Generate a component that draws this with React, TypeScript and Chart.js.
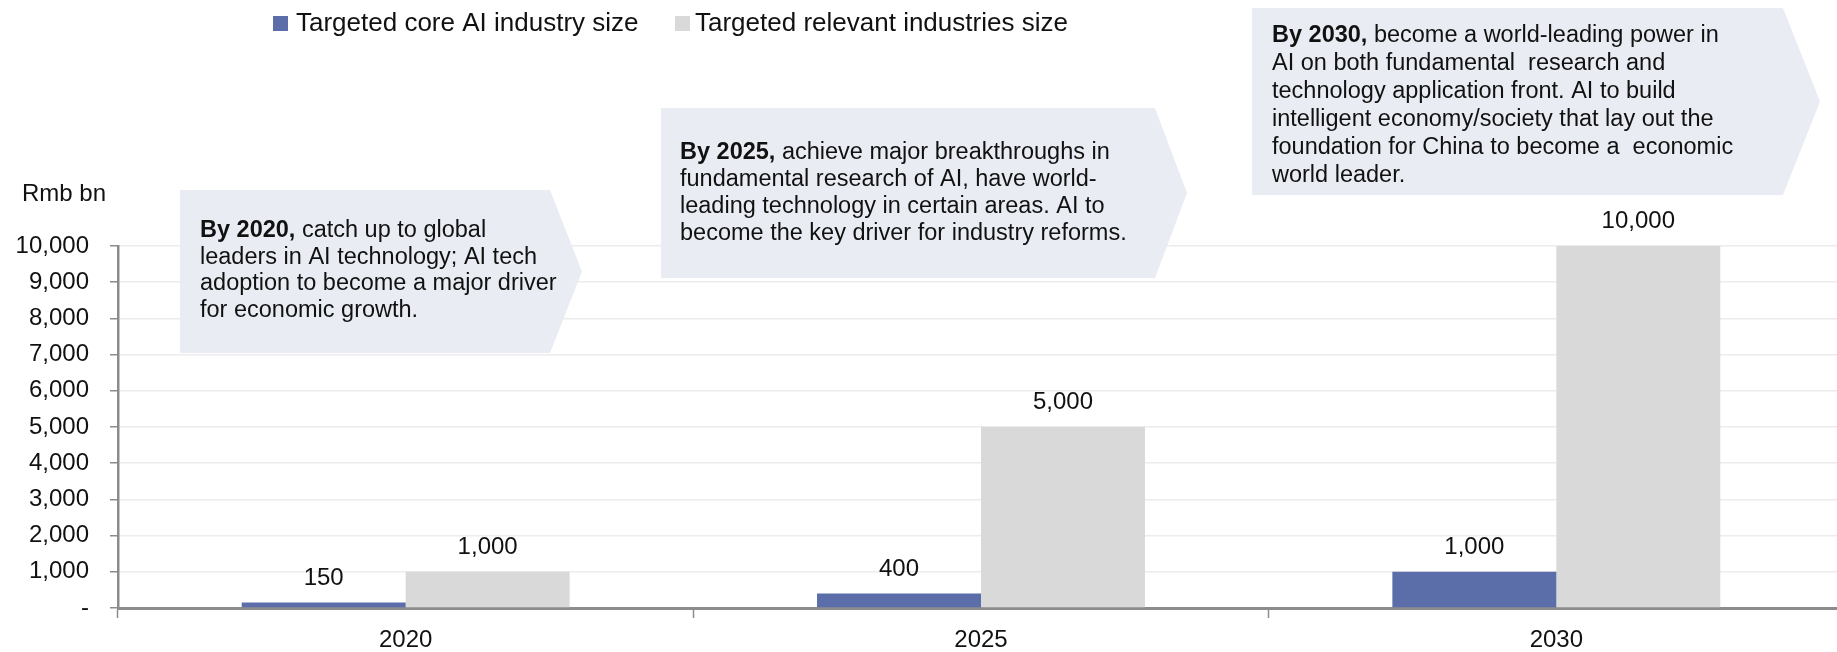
import React, { useEffect, useRef } from "react";
import { Chart, registerables } from "chart.js";

Chart.register(...registerables);

const categories = ["2020", "2025", "2030"];
const coreAISize = [150, 400, 1000];
const relevantSize = [1000, 5000, 10000];
const seriesNames = ["Targeted core AI industry size", "Targeted relevant industries size"];
const yUnit = "Rmb bn";
const yMax = 10000;
const yStep = 1000;

const callout2020 = [
  [{ t: "By 2020,", b: true }, { t: " catch up to global", b: false }],
  [{ t: "leaders in AI technology; AI tech", b: false }],
  [{ t: "adoption to become a major driver", b: false }],
  [{ t: "for economic growth.", b: false }],
];
const callout2025 = [
  [{ t: "By 2025,", b: true }, { t: " achieve major breakthroughs in", b: false }],
  [{ t: "fundamental research of AI, have world-", b: false }],
  [{ t: "leading technology in certain areas. AI to", b: false }],
  [{ t: "become the key driver for industry reforms.", b: false }],
];
const callout2030 = [
  [{ t: "By 2030,", b: true }, { t: " become a world-leading power in", b: false }],
  [{ t: "AI on both fundamental  research and", b: false }],
  [{ t: "technology application front. AI to build", b: false }],
  [{ t: "intelligent economy/society that lay out the", b: false }],
  [{ t: "foundation for China to become a  economic", b: false }],
  [{ t: "world leader.", b: false }],
];

const FONT = "'Liberation Sans', Arial, Helvetica, sans-serif";
const BLUE = "#5b6eaa";
const GREY = "#d9d9d9";
const BOXFILL = "#e9ecf3";

const calloutLayout = [
  { lines: callout2020, left: 180, top: 190, right: 550, tip: 582, bottom: 353, tx: 200, ty: 230.5, lh: 26.7 },
  { lines: callout2025, left: 661, top: 108, right: 1155, tip: 1187, bottom: 278, tx: 680, ty: 153, lh: 26.7 },
  { lines: callout2030, left: 1252, top: 8, right: 1783, tip: 1820, bottom: 195, tx: 1272, ty: 35.5, lh: 28 },
];

const calloutPlugin = {
  id: "callouts",
  beforeDatasetsDraw(chart: any) {
    const ctx = chart.ctx;
    ctx.save();
    for (const c of calloutLayout) {
      const midY = (c.top + c.bottom) / 2;
      ctx.fillStyle = BOXFILL;
      ctx.beginPath();
      ctx.moveTo(c.left, c.top);
      ctx.lineTo(c.right, c.top);
      ctx.lineTo(c.tip, midY);
      ctx.lineTo(c.right, c.bottom);
      ctx.lineTo(c.left, c.bottom);
      ctx.closePath();
      ctx.fill();
      ctx.fillStyle = "#111111";
      ctx.textBaseline = "middle";
      ctx.textAlign = "left";
      c.lines.forEach((segs: any[], i: number) => {
        let x = c.tx;
        const y = c.ty + i * c.lh;
        for (const s of segs) {
          ctx.font = `${s.b ? "bold " : ""}23.5px ${FONT}`;
          ctx.fillText(s.t, x, y);
          x += ctx.measureText(s.t).width;
        }
      });
    }
    ctx.restore();
  },
};

const labelsPlugin = {
  id: "valueLabels",
  afterDatasetsDraw(chart: any) {
    const ctx = chart.ctx;
    ctx.save();
    ctx.font = `24px ${FONT}`;
    ctx.fillStyle = "#111111";
    ctx.textAlign = "center";
    ctx.textBaseline = "alphabetic";
    chart.data.datasets.forEach((ds: any, di: number) => {
      const meta = chart.getDatasetMeta(di);
      meta.data.forEach((el: any, i: number) => {
        const v = ds.data[i];
        ctx.fillText(v.toLocaleString("en-US"), el.x, el.y - 18);
      });
    });
    // legend
    ctx.font = `26px ${FONT}`;
    ctx.textAlign = "left";
    ctx.textBaseline = "middle";
    const legendPos = [
      { sx: 273, tx: 296 },
      { sx: 675, tx: 695 },
    ];
    chart.data.datasets.forEach((ds: any, di: number) => {
      const p = legendPos[di];
      ctx.fillStyle = ds.backgroundColor;
      ctx.fillRect(p.sx, 16, 15, 15);
      ctx.fillStyle = "#111111";
      ctx.fillText(ds.label, p.tx, 24);
    });
    // unit
    ctx.font = `24px ${FONT}`;
    ctx.fillText(yUnit, 22, 194);
    ctx.restore();
  },
};

export default function App() {
  const ref = useRef<HTMLCanvasElement | null>(null);
  useEffect(() => {
    if (!ref.current) return;
    Chart.defaults.font.family = FONT;
    const chart = new Chart(ref.current, {
      type: "bar",
      data: {
        labels: categories,
        datasets: [
          { label: seriesNames[0], data: coreAISize, backgroundColor: BLUE, borderWidth: 0 },
          { label: seriesNames[1], data: relevantSize, backgroundColor: GREY, borderWidth: 0 },
        ],
      },
      options: {
        animation: false,
        responsive: false,
        layout: { padding: { top: 246, right: 0, left: 0, bottom: 0 } },
        plugins: { legend: { display: false }, tooltip: { enabled: false } },
        datasets: { bar: { categoryPercentage: 0.57, barPercentage: 1 } },
        scales: {
          x: {
            offset: true,
            grid: {
              offset: true,
              drawOnChartArea: false,
              drawTicks: true,
              tickLength: 10,
              tickColor: "#8c8c8c",
              tickWidth: 1.5,
            },
            border: { color: "#8c8c8c", width: 3 },
            ticks: { color: "#111111", font: { size: 24 }, padding: 8 },
            afterFit(axis: any) {
              axis.height = 44;
            },
          },
          y: {
            min: 0,
            max: yMax,
            grid: {
              color: "#ececec",
              lineWidth: 1.5,
              tickLength: 8,
              tickColor: "#8c8c8c",
              tickWidth: 1.5,
            },
            border: { color: "#8c8c8c", width: 2.5 },
            ticks: {
              stepSize: yStep,
              padding: 21,
              color: "#111111",
              font: { size: 24 },
              callback: (v: any) => (v === 0 ? "-" : Number(v).toLocaleString("en-US")),
            },
            afterFit(axis: any) {
              axis.width = 118;
            },
          },
        },
      },
      plugins: [calloutPlugin, labelsPlugin],
    });
    return () => chart.destroy();
  }, []);
  return (
    <div style={{ position: "fixed", left: 0, top: 0, width: 1837, height: 652, overflow: "hidden", background: "#fff" }}>
      <canvas ref={ref} width={1844} height={652} style={{ width: 1844, height: 652, display: "block" }} />
    </div>
  );
}
